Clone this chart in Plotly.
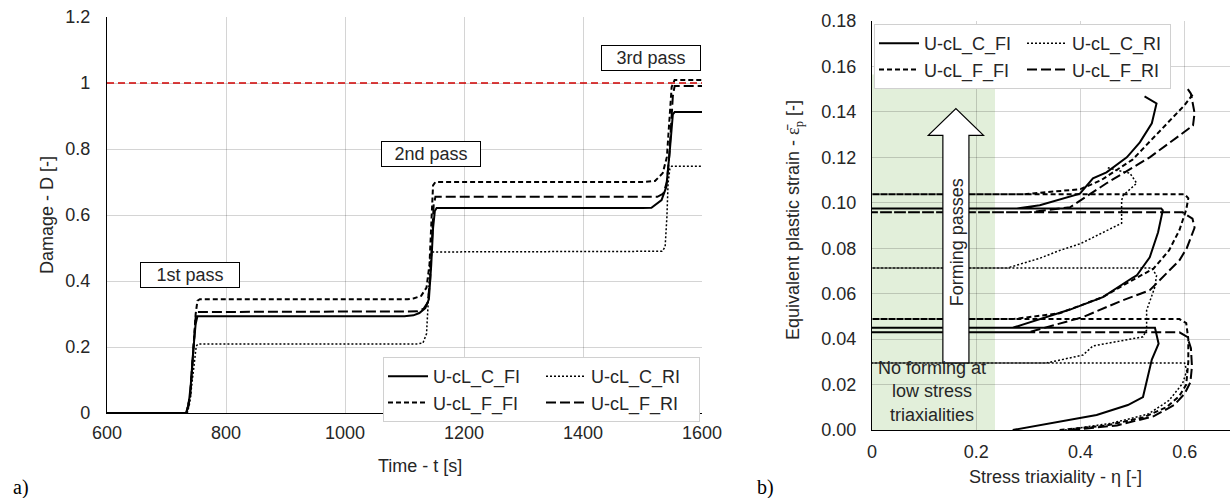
import plotly.graph_objects as go

# ---------------- data: (a) damage vs time ----------------
SERIES = ["U-cL_C_FI", "U-cL_C_RI", "U-cL_F_FI", "U-cL_F_RI"]

t_C_FI = [600, 733, 737, 741, 745, 749, 752, 1100, 1115, 1125, 1135, 1141, 1145, 1148, 1151, 1154,
          1500, 1515, 1532, 1540, 1546, 1549, 1551, 1554, 1600]
D_C_FI = [0, 0, 0.02, 0.09, 0.19, 0.27, 0.293, 0.293, 0.296, 0.303, 0.318, 0.345, 0.45, 0.56, 0.612, 0.621,
          0.621, 0.622, 0.645, 0.685, 0.797, 0.867, 0.905, 0.912, 0.912]

t_C_RI = [600, 735, 739, 743, 747, 750, 753, 1120, 1131, 1137, 1140, 1143, 1146,
          1500, 1533, 1538, 1541, 1543, 1546, 1549, 1600]
D_C_RI = [0, 0, 0.03, 0.10, 0.17, 0.203, 0.209, 0.209, 0.212, 0.24, 0.34, 0.47, 0.488,
          0.488, 0.49, 0.503, 0.594, 0.697, 0.74, 0.748, 0.748]

t_F_FI = [600, 733, 740, 745, 749, 752, 756, 1105, 1115, 1128, 1137, 1142, 1145, 1148, 1152,
          1500, 1521, 1534, 1541, 1546, 1549, 1554, 1600]
D_F_FI = [0, 0, 0.05, 0.18, 0.30, 0.34, 0.345, 0.345, 0.347, 0.355, 0.38, 0.45, 0.60, 0.69, 0.70,
          0.70, 0.703, 0.727, 0.776, 0.897, 0.988, 1.009, 1.009]

t_F_RI = [600, 734, 740, 745, 749, 752, 1110, 1122, 1132, 1139, 1143, 1146, 1149, 1152,
          1525, 1535, 1541, 1545, 1548, 1551, 1554, 1600]
D_F_RI = [0, 0, 0.06, 0.20, 0.29, 0.306, 0.306, 0.308, 0.316, 0.335, 0.40, 0.53, 0.63, 0.655,
          0.655, 0.665, 0.70, 0.78, 0.88, 0.96, 0.991, 0.991]

DAMAGE_LIMIT = 1.0
PASS_LABELS = ["1st pass", "2nd pass", "3rd pass"]
PASS_LABEL_T = [740, 1145, 1514]
PASS_LABEL_D = [0.418, 0.786, 1.077]

# ---------------- data: (b) strain vs triaxiality ----------------
eta_C_FI = [0.27, 0.322, 0.431, 0.491, 0.520, 0.537, 0.550, 0.543, 0.52, 0.0,
            0.27, 0.38, 0.443, 0.50, 0.508, 0.533, 0.549, 0.558, 0.555, 0.0,
            0.278, 0.322, 0.399, 0.424, 0.45, 0.489, 0.514, 0.537, 0.546, 0.523]
eps_C_FI = [0.0, 0.0022, 0.0066, 0.011, 0.0145, 0.031, 0.038, 0.045, 0.045, 0.045,
            0.045, 0.053, 0.0585, 0.067, 0.068, 0.076, 0.087, 0.0967, 0.0975, 0.0975,
            0.0975, 0.0989, 0.104, 0.1108, 0.1134, 0.120, 0.1266, 0.135, 0.1437, 0.1468]

eta_C_RI = [0.37, 0.46, 0.53, 0.57, 0.596, 0.604, 0.60, 0.0,
            0.335, 0.405, 0.424, 0.52, 0.527, 0.527, 0.543, 0.546, 0.537, 0.0,
            0.26, 0.322, 0.36, 0.40, 0.479, 0.479, 0.482, 0.508, 0.495, 0.47, 0.45]
eps_C_RI = [0.0, 0.003, 0.007, 0.013, 0.0205, 0.026, 0.0295, 0.0295,
            0.0295, 0.033, 0.037, 0.041, 0.044, 0.0527, 0.063, 0.068, 0.0713, 0.0713,
            0.0713, 0.0756, 0.079, 0.082, 0.091, 0.101, 0.1033, 0.1086, 0.113, 0.1143, 0.1156]

eta_F_FI = [0.36, 0.45, 0.52, 0.565, 0.59, 0.603, 0.607, 0.607, 0.603, 0.59, 0.0,
            0.27, 0.36, 0.443, 0.50, 0.54, 0.57, 0.59, 0.603, 0.607, 0.60, 0.0,
            0.29, 0.40, 0.44, 0.50, 0.55, 0.60, 0.618]
eps_F_FI = [0.0, 0.002, 0.0055, 0.010, 0.015, 0.020, 0.030, 0.040, 0.047, 0.0488, 0.0488,
            0.0488, 0.0514, 0.0585, 0.066, 0.071, 0.079, 0.088, 0.097, 0.102, 0.1037, 0.1037,
            0.1037, 0.106, 0.110, 0.119, 0.131, 0.143, 0.1485]

eta_F_RI = [0.38, 0.47, 0.54, 0.58, 0.60, 0.611, 0.614, 0.612, 0.605, 0.59, 0.0,
            0.30, 0.405, 0.48, 0.533, 0.571, 0.59, 0.604, 0.619, 0.615, 0.596, 0.0,
            0.30, 0.38, 0.45, 0.533, 0.60, 0.616, 0.619, 0.612, 0.603]
eps_F_RI = [0.0, 0.002, 0.006, 0.011, 0.016, 0.021, 0.028, 0.036, 0.041, 0.043, 0.043,
            0.043, 0.0497, 0.057, 0.0615, 0.0703, 0.0747, 0.080, 0.089, 0.093, 0.0958, 0.0958,
            0.0958, 0.098, 0.1086, 0.120, 0.131, 0.134, 0.1395, 0.148, 0.151]

LOW_TRIAX_LIMIT = 0.236     # green band: no forming below this triaxiality
LOW_TRIAX_TOP = 0.1565

# ---------------- styles ----------------
FONT = "Liberation Sans, Arial, sans-serif"
SERIF = "Liberation Serif, Times New Roman, serif"
TXT = "#262626"
GRID = "rgba(0,0,0,0.17)"
STYLE = {
    "U-cL_C_FI": dict(color="black", width=2, dash="solid"),
    "U-cL_C_RI": dict(color="black", width=1.5, dash="2px,2px"),
    "U-cL_F_FI": dict(color="black", width=2, dash="5px,3px"),
    "U-cL_F_RI": dict(color="black", width=2, dash="10px,4px"),
}
GROUP = {"U-cL_C_FI": "g1", "U-cL_F_FI": "g1", "U-cL_C_RI": "g2", "U-cL_F_RI": "g2"}

W, H = 1230, 498
def px_x(p): return p / W
def px_y(p): return 1 - p / H

fig = go.Figure()

left = {"U-cL_C_FI": (t_C_FI, D_C_FI), "U-cL_C_RI": (t_C_RI, D_C_RI),
        "U-cL_F_FI": (t_F_FI, D_F_FI), "U-cL_F_RI": (t_F_RI, D_F_RI)}
right = {"U-cL_C_FI": (eta_C_FI, eps_C_FI), "U-cL_C_RI": (eta_C_RI, eps_C_RI),
         "U-cL_F_FI": (eta_F_FI, eps_F_FI), "U-cL_F_RI": (eta_F_RI, eps_F_RI)}

for name in SERIES:
    x, y = left[name]
    fig.add_trace(go.Scatter(x=x, y=y, mode="lines", name=name, line=STYLE[name],
                             legendgroup=GROUP[name], legend="legend", xaxis="x", yaxis="y"))
for name in SERIES:
    x, y = right[name]
    fig.add_trace(go.Scatter(x=x, y=y, mode="lines", name=name, line=STYLE[name],
                             legendgroup=GROUP[name] + "b", legend="legend2", xaxis="x2", yaxis="y2"))

axis_common = dict(showgrid=True, gridcolor=GRID, gridwidth=1, zeroline=False, automargin=False,
                   showline=True, linecolor="black", linewidth=1.3, ticks="",
                   tickfont=dict(family=FONT, size=18, color=TXT))

fig.update_layout(
    width=W, height=H, margin=dict(l=0, r=0, t=0, b=0, autoexpand=False),
    paper_bgcolor="white", plot_bgcolor="white",
    font=dict(family=FONT, size=18, color=TXT),
    xaxis=dict(domain=[px_x(107), px_x(702)], range=[600, 1600], dtick=200, anchor="y",
               ticklabelstandoff=3, **axis_common),
    yaxis=dict(domain=[px_y(413), px_y(17)], range=[0, 1.2], dtick=0.2, anchor="x",
               ticklabelstandoff=12, **axis_common),
    xaxis2=dict(domain=[px_x(872), 1.0], range=[0, 0.687], dtick=0.2, anchor="y2",
                ticklabelstandoff=5, **axis_common),
    yaxis2=dict(domain=[px_y(430), px_y(21)], range=[0, 0.18], dtick=0.02, tickformat=".2f",
                anchor="x2", ticklabelstandoff=11, **axis_common),
    legend=dict(x=px_x(383), y=px_y(357), xanchor="left", yanchor="top", orientation="h",
                traceorder="grouped", itemwidth=40, entrywidth=103, tracegroupgap=0,
                font=dict(family=FONT, size=18, color=TXT), bgcolor="white",
                bordercolor="#d0d0d0", borderwidth=1),
    legend2=dict(x=px_x(874), y=px_y(24), xanchor="left", yanchor="top", orientation="h",
                 traceorder="grouped", itemwidth=40, entrywidth=93, tracegroupgap=0,
                 font=dict(family=FONT, size=18, color=TXT), bgcolor="white",
                 bordercolor="#d0d0d0", borderwidth=1),
    showlegend=True,
)

# damage limit line
fig.add_shape(type="line", xref="x", yref="y", x0=600, x1=1600, y0=DAMAGE_LIMIT, y1=DAMAGE_LIMIT,
              line=dict(color="#d00000", width=1.5, dash="7px,4px"), layer="above")

# pass labels
for lab, tx, dy in zip(PASS_LABELS, PASS_LABEL_T, PASS_LABEL_D):
    fig.add_annotation(x=tx, y=dy, xref="x", yref="y", text=lab, showarrow=False,
                       xanchor="center", yanchor="middle",
                       font=dict(family=FONT, size=18, color=TXT), bgcolor="white",
                       bordercolor="black", borderwidth=1, borderpad=1, width=96, height=22)

# green low-triaxiality band
fig.add_shape(type="rect", xref="x2", yref="y2", x0=0, x1=LOW_TRIAX_LIMIT, y0=0, y1=LOW_TRIAX_TOP,
              fillcolor="#e2efda", line=dict(width=0), layer="below")

# block arrow "Forming passes"
ax_c, ax_hw, ax_sw = 0.161, 0.053, 0.025
ay0, ay_head, ay_tip = 0.0295, 0.1297, 0.1415
arrow_path = (f"M {ax_c-ax_sw},{ay0} L {ax_c+ax_sw},{ay0} L {ax_c+ax_sw},{ay_head} "
              f"L {ax_c+ax_hw},{ay_head} L {ax_c},{ay_tip} L {ax_c-ax_hw},{ay_head} "
              f"L {ax_c-ax_sw},{ay_head} Z")
fig.add_shape(type="path", xref="x2", yref="y2", path=arrow_path, fillcolor="white",
              line=dict(color="black", width=1.2), layer="above")
fig.add_annotation(x=0.163, y=0.0826, xref="x2", yref="y2", text="Forming passes", textangle=-90,
                   xanchor="center", yanchor="middle",
                   showarrow=False, font=dict(family=FONT, size=18, color=TXT))
fig.add_annotation(x=0.115, y=0.0171, xref="x2", yref="y2",
                   text="No forming at<br>low stress<br>triaxialities", showarrow=False,
                   xanchor="center", yanchor="middle",
                   font=dict(family=FONT, size=18, color=TXT), align="center")

# axis titles
def title_ann(x, y, text, angle=0):
    fig.add_annotation(x=px_x(x), y=px_y(y), xref="paper", yref="paper", text=text,
                       textangle=angle, xanchor="center", yanchor="middle", showarrow=False,
                       font=dict(family=FONT, size=18, color=TXT))

title_ann(420, 466, "Time - t [s]")
title_ann(47, 215, "Damage - D [-]", -90)
title_ann(1055, 477, "Stress triaxiality - η [-]")
title_ann(795, 220, "Equivalent plastic strain - "
                    "<span style='font-family:Liberation Serif'>ε̄<sub>p</sub></span> [-]", -90)

# panel labels
for lab, x in [("a)", 21), ("b)", 765)]:
    fig.add_annotation(x=px_x(x), y=px_y(487), xref="paper", yref="paper", text=lab,
                       xanchor="center", yanchor="middle", showarrow=False,
                       font=dict(family=SERIF, size=20, color="black"))

fig.write_html("out.html")
